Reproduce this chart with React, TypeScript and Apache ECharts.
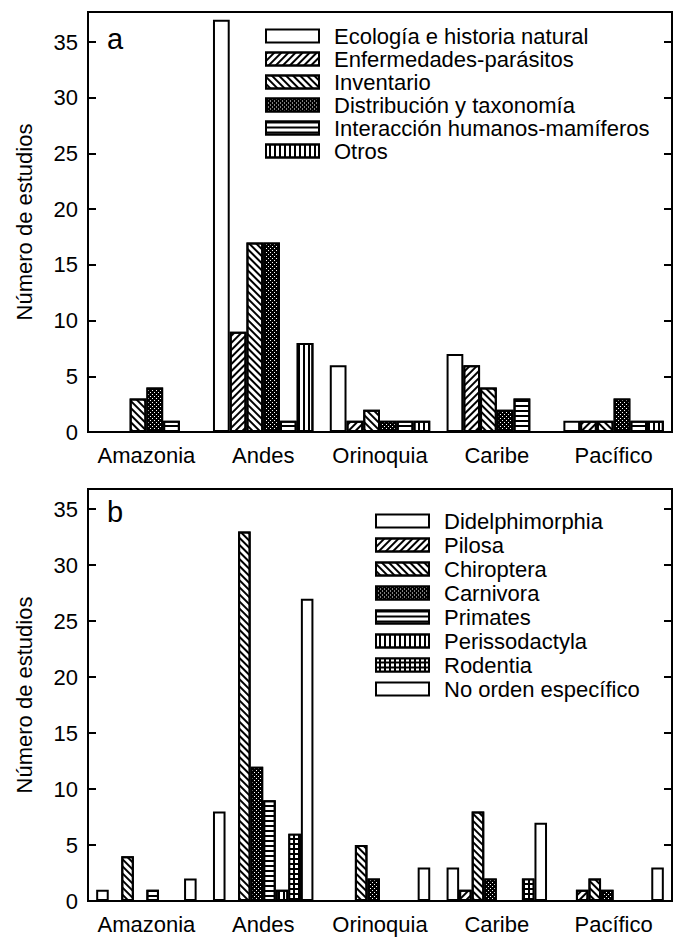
import React, { useEffect, useRef } from "react";
import * as echarts from "echarts";

const regions = ["Amazonia", "Andes", "Orinoquia", "Caribe", "Pacífico"];

const topicNames = [
  "Ecología e historia natural",
  "Enfermedades-parásitos",
  "Inventario",
  "Distribución y taxonomía",
  "Interacción humanos-mamíferos",
  "Otros",
];
const ecologia = [0, 37, 6, 7, 1];
const enfermedades = [0, 9, 1, 6, 1];
const inventario = [3, 17, 2, 4, 1];
const distribucion = [4, 17, 1, 2, 3];
const interaccion = [1, 1, 1, 3, 1];
const otros = [0, 8, 1, 0, 1];

const orderNames = [
  "Didelphimorphia",
  "Pilosa",
  "Chiroptera",
  "Carnivora",
  "Primates",
  "Perissodactyla",
  "Rodentia",
  "No orden específico",
];
const didelphimorphia = [1, 8, 0, 3, 0];
const pilosa = [0, 0, 0, 1, 1];
const chiroptera = [4, 33, 5, 8, 2];
const carnivora = [0, 12, 2, 2, 1];
const primates = [1, 9, 0, 0, 0];
const perissodactyla = [0, 1, 0, 0, 0];
const rodentia = [0, 6, 0, 2, 0];
const noOrden = [2, 27, 3, 7, 3];

const yTickStep = 5;
const yLabel = "Número de estudios";
const panelLetters = ["a", "b"];

const FONT = "'Liberation Sans', Arial, sans-serif";
const AXIS_FS = 22;
const LEGEND_FS = 22;

const plain = { color: "#fff", decal: undefined as any };
const fwdHatch = {
  color: "#fff",
  decal: { symbol: "rect", symbolSize: 1, color: "#000", dashArrayX: [1, 0], dashArrayY: [1.6, 2.4], rotation: -Math.PI / 4 },
};
const backHatch = {
  color: "#fff",
  decal: { symbol: "rect", symbolSize: 1, color: "#000", dashArrayX: [1, 0], dashArrayY: [1.6, 2.4], rotation: Math.PI / 4 },
};
const dots = {
  color: "#000",
  decal: { symbol: "rect", symbolSize: 1, color: "#fff", dashArrayX: [[1, 3], [0, 2, 1, 1]], dashArrayY: [1, 1], rotation: 0 },
};
const hLines = {
  color: "#fff",
  decal: { symbol: "rect", symbolSize: 1, color: "#000", dashArrayX: [1, 0], dashArrayY: [2, 3], rotation: 0 },
};
const vLines = {
  color: "#fff",
  decal: { symbol: "rect", symbolSize: 1, color: "#000", dashArrayX: [1, 0], dashArrayY: [2, 3], rotation: Math.PI / 2 },
};
const grid = {
  color: "#000",
  decal: { symbol: "rect", symbolSize: 1, color: "#fff", dashArrayX: [3, 2], dashArrayY: [3, 2], rotation: 0 },
};

const topicData = [ecologia, enfermedades, inventario, distribucion, interaccion, otros];
const topicStyles = [plain, fwdHatch, backHatch, dots, hLines, vLines];
const orderData = [didelphimorphia, pilosa, chiroptera, carnivora, primates, perissodactyla, rodentia, noOrden];
const orderStyles = [plain, fwdHatch, backHatch, dots, hLines, vLines, grid, plain];

const makeBar = (name: string, data: number[], st: any, xi: number, yi: number) => ({
  type: "bar",
  name,
  data,
  xAxisIndex: xi,
  yAxisIndex: yi,
  barGap: "0%",
  barCategoryGap: "14%",
  itemStyle: {
    color: st.color,
    borderColor: "#000",
    borderWidth: 2,
    ...(st.decal ? { decal: st.decal } : {}),
  },
});

const yAxisBase = (gridIndex: number, max: number, right: boolean) => ({
  type: "value",
  gridIndex,
  position: right ? "right" : "left",
  min: 0,
  max,
  interval: yTickStep,
  name: right ? "" : yLabel,
  nameLocation: "middle",
  nameGap: 53,
  nameTextStyle: { fontSize: AXIS_FS, color: "#000", fontFamily: FONT },
  axisLine: { show: true, onZero: false, lineStyle: { color: "#000", width: 2 } },
  axisTick: { show: true, inside: true, length: 8, lineStyle: { color: "#000", width: 2 } },
  axisLabel: {
    show: !right,
    margin: 10,
    fontSize: AXIS_FS,
    color: "#000",
    fontFamily: FONT,
    formatter: (v: number) => (v % yTickStep === 0 ? String(v) : ""),
  },
  splitLine: { show: false },
});

const xAxisBase = (gridIndex: number) => ({
  type: "category",
  gridIndex,
  data: regions,
  axisLine: { show: true, lineStyle: { color: "#000", width: 2 } },
  axisTick: { show: false },
  axisLabel: { interval: 0, margin: 12, fontSize: AXIS_FS, color: "#000", fontFamily: FONT },
});

const legendBase = (data: string[], left: number, top: number, gap: number) => ({
  data,
  orient: "vertical",
  left,
  top,
  padding: 0,
  icon: "rect",
  itemWidth: 53,
  itemHeight: 13,
  itemGap: gap,
  selectedMode: false,
  textStyle: { fontSize: LEGEND_FS, color: "#000", fontFamily: FONT, lineHeight: 22, padding: [0, 0, 0, 10] },
});

export default function App() {
  const ref = useRef<HTMLDivElement>(null);
  useEffect(() => {
    document.body.style.margin = "0";
    const chart = echarts.init(ref.current!, null, { renderer: "svg" });
    const series: any[] = [];
    topicNames.forEach((n, i) => series.push(makeBar(n, topicData[i], topicStyles[i], 0, 0)));
    orderNames.forEach((n, i) => series.push(makeBar(n, orderData[i], orderStyles[i], 1, 2)));
    chart.setOption({
      animation: false,
      backgroundColor: "#fff",
      grid: [
        { left: 88, top: 12, width: 584, height: 420, show: true, borderColor: "#000", borderWidth: 2, backgroundColor: "transparent" },
        { left: 88, top: 489, width: 584, height: 412, show: true, borderColor: "#000", borderWidth: 2, backgroundColor: "transparent" },
      ],
      xAxis: [xAxisBase(0), xAxisBase(1)],
      yAxis: [yAxisBase(0, 37.7, false), yAxisBase(0, 37.7, true), yAxisBase(1, 36.8, false), yAxisBase(1, 36.8, true)],
      legend: [legendBase(topicNames, 265, 25, 1), legendBase(orderNames, 375, 510, 2)],
      graphic: [
        { type: "text", left: 107, top: 24, style: { text: panelLetters[0], fontSize: 29, fill: "#000", fontFamily: FONT } },
        { type: "text", left: 107, top: 497, style: { text: panelLetters[1], fontSize: 29, fill: "#000", fontFamily: FONT } },
      ],
      series,
    });
    return () => chart.dispose();
  }, []);
  return <div ref={ref} style={{ width: 678, height: 945 }} />;
}
